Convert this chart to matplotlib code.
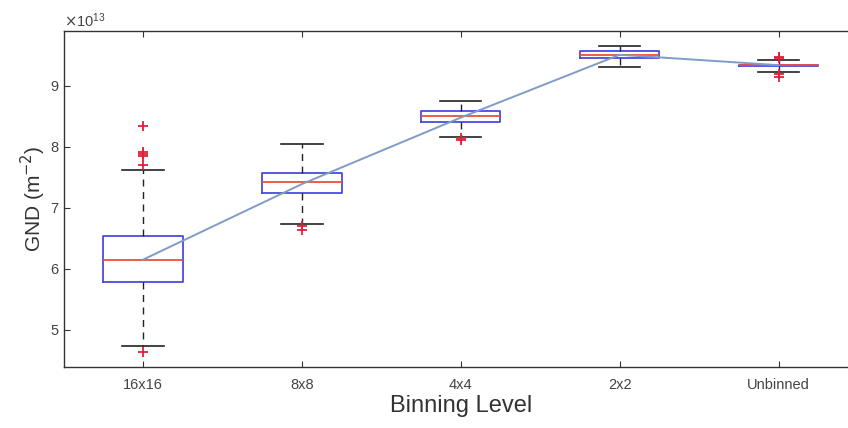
import matplotlib
matplotlib.use("Agg")
import matplotlib.pyplot as plt
import numpy as np

plt.rcParams['font.family'] = ['Liberation Sans', 'DejaVu Sans']

categories = ["16x16", "8x8", "4x4", "2x2", "Unbinned"]
scale = 1e13
medians = [6.14, 7.42, 8.50, 9.51, 9.335]
q1 = [5.78, 7.24, 8.40, 9.45, 9.32]
q3 = [6.54, 7.57, 8.58, 9.58, 9.35]
whis_lo = [4.74, 6.74, 8.16, 9.31, 9.22]
whis_hi = [7.62, 8.04, 8.76, 9.66, 9.43]
fliers = [
    [8.34, 7.91, 7.88, 7.85, 7.71, 4.63],
    [6.70, 6.63],
    [8.14, 8.12],
    [],
    [9.48, 9.45, 9.19, 9.15],
]
trend = [6.15, 7.39, 8.48, 9.51, 9.34]

fig = plt.figure(figsize=(8.48, 4.28), dpi=100)
W, H = 848, 428
ax_left, ax_right, ax_top, ax_bot = 64, 858, 31, 367
ax = fig.add_axes([ax_left / W, 1 - ax_bot / H, (ax_right - ax_left) / W, (ax_bot - ax_top) / H])

positions = np.arange(1, len(categories) + 1)
stats = []
for i in range(len(categories)):
    stats.append(dict(med=medians[i] * scale, q1=q1[i] * scale, q3=q3[i] * scale,
                      whislo=whis_lo[i] * scale, whishi=whis_hi[i] * scale,
                      fliers=np.array(fliers[i]) * scale, label=categories[i]))

ax.bxp(stats, positions=positions, widths=0.5, showfliers=True,
       boxprops=dict(color='#4a4ae0', linewidth=1.3),
       medianprops=dict(color='#e8503a', linewidth=1.3),
       whiskerprops=dict(color='#222222', linestyle=(0, (5, 4)), linewidth=1.0),
       capprops=dict(color='#222222', linewidth=1.2),
       capwidths=0.26,
       flierprops=dict(marker='+', markeredgecolor='#e0203a', markersize=7, markeredgewidth=1.3))

ax.plot(positions, np.array(trend) * scale, color='#7f9cc8', linewidth=1.4, zorder=5)

ax.set_xlim(0.503, 5.5)
ax.set_ylim(4.39 * scale, 9.90 * scale)
ax.set_yticks(np.array([5, 6, 7, 8, 9]) * scale)
ax.ticklabel_format(axis='y', style='sci', scilimits=(13, 13), useMathText=True)
ax.yaxis.get_offset_text().set_fontsize(10.5)
ax.yaxis.get_offset_text().set_color('#555555')
ax.set_xticks(positions)
ax.set_xticklabels(categories)

ax.tick_params(direction='in', top=True, right=False, length=4, width=0.8,
               labelsize=10.5, colors='#333333', labelcolor='#444444')
ax.tick_params(axis='x', pad=8)
for s in ax.spines.values():
    s.set_color('#333333')
    s.set_linewidth(1.0)

ax.set_xlabel("Binning Level", fontsize=17, color='#333333', labelpad=2)
ax.set_ylabel("GND (m$^{\\mathsf{-2}}$)", fontsize=15, color='#333333', labelpad=1)

fig.savefig("out.png", dpi=100)
